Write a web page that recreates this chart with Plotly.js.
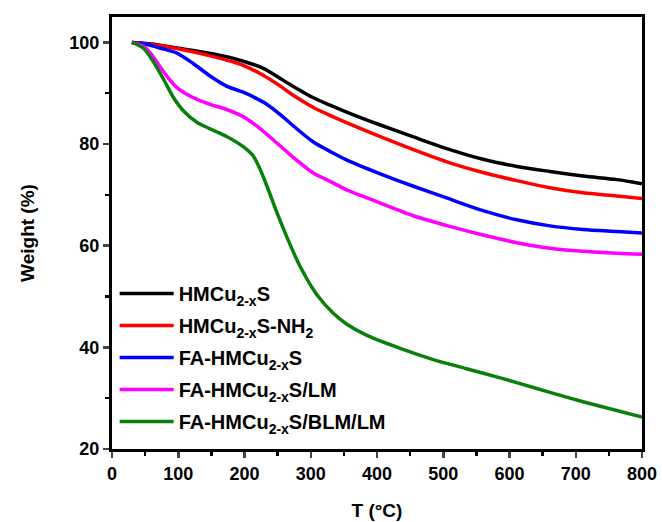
<!DOCTYPE html>
<html>
<head>
<meta charset="utf-8">
<script src="https://cdn.plot.ly/plotly-3.0.1.min.js"></script>
<style>html,body{margin:0;padding:0;background:#fff;}#chart{width:662px;height:522px;}</style>
</head>
<body>
<div id="chart"></div>
<script>
// Temperature (°C) and weight (%)
const T_black = [30, 60, 98, 150, 198, 230, 254, 269, 304, 330, 354, 404, 455, 510, 560, 611, 661, 711, 762, 800];
const W_black = [100, 99.7, 98.9, 97.8, 96.3, 94.8, 92.9, 91.7, 89.1, 87.6, 86.3, 83.8, 81.4, 78.9, 77.0, 75.6, 74.6, 73.7, 73.0, 72.2];

const T_red = [30, 60, 98, 150, 198, 230, 254, 269, 304, 330, 354, 404, 455, 510, 560, 611, 661, 711, 762, 800];
const W_red = [100, 99.6, 98.8, 97.3, 95.5, 93.4, 91.4, 90.0, 87.2, 85.6, 84.2, 81.5, 78.9, 76.3, 74.4, 72.8, 71.4, 70.4, 69.8, 69.3];

const T_blue = [30, 50, 72, 98, 123, 148, 173, 198, 213, 233, 254, 269, 304, 330, 354, 404, 455, 505, 560, 611, 661, 711, 762, 800];
const W_blue = [100, 99.7, 98.9, 97.9, 95.8, 93.4, 91.4, 90.2, 89.3, 87.9, 85.8, 84.1, 80.4, 78.5, 76.9, 74.2, 71.7, 69.4, 66.9, 65.1, 63.9, 63.2, 62.8, 62.5];

const T_magenta = [30, 47, 60, 72, 85, 98, 123, 148, 173, 198, 224, 249, 269, 304, 330, 354, 389, 455, 510, 560, 611, 661, 711, 762, 800];
const W_magenta = [100, 99.3, 97.6, 95.3, 93.0, 91.1, 89.1, 87.8, 86.8, 85.4, 83.0, 80.2, 77.9, 74.3, 72.6, 71.0, 69.2, 65.9, 63.8, 62.1, 60.6, 59.5, 58.9, 58.5, 58.3];

const T_green = [30, 47, 62, 78, 93, 108, 128, 148, 173, 198, 213, 223, 234, 249, 264, 284, 309, 334, 354, 384, 435, 485, 535, 586, 636, 686, 737, 800];
const W_green = [100, 98.9, 96.3, 92.7, 89.1, 86.5, 84.3, 83.0, 81.5, 79.5, 77.7, 75.2, 71.7, 66.5, 61.7, 55.9, 50.4, 46.7, 44.6, 42.4, 39.8, 37.6, 35.8, 34.0, 32.1, 30.2, 28.4, 26.3];

const seriesNames = ['HMCu<sub>2-x</sub>S', 'HMCu<sub>2-x</sub>S-NH<sub>2</sub>', 'FA-HMCu<sub>2-x</sub>S', 'FA-HMCu<sub>2-x</sub>S/LM', 'FA-HMCu<sub>2-x</sub>S/BLM/LM'];
const seriesColors = ['#000000', '#ff0000', '#0000ff', '#ff00ff', '#0a800a'];
const xTickVals = [0, 100, 200, 300, 400, 500, 600, 700, 800];
const yTickVals = [20, 40, 60, 80, 100];

const xs = [T_black, T_red, T_blue, T_magenta, T_green];
const ys = [W_black, W_red, W_blue, W_magenta, W_green];

const traces = xs.map((x, i) => ({
  x: x, y: ys[i], type: 'scatter', mode: 'lines', name: seriesNames[i],
  legendgroup: 'g' + i,
  line: {color: seriesColors[i], width: 3.5, shape: 'spline', smoothing: 0.8}
}));

const font = {family: 'Liberation Sans, Arial, sans-serif', color: '#000'};
const layout = {
  width: 662, height: 522,
  margin: {l: 112, r: 20, t: 17, b: 73},
  paper_bgcolor: '#fff', plot_bgcolor: '#fff',
  showlegend: true,
  legend: {
    x: 0.005, y: 0.405, xanchor: 'left', yanchor: 'top',
    bgcolor: 'rgba(0,0,0,0)', itemwidth: 54, tracegroupgap: 3,
    font: Object.assign({}, font, {size: 20, weight: 'bold'})
  },
  xaxis: {
    range: [0, 800], tickvals: xTickVals, ticks: 'outside', ticklen: 6, tickwidth: 2.5,
    showline: true, linewidth: 3, linecolor: '#000', mirror: true, showgrid: false, zeroline: false,
    minor: {dtick: 50, ticks: 'outside', ticklen: 4, tickwidth: 2.5, tickcolor: '#000'},
    tickfont: Object.assign({}, font, {size: 18, weight: 'bold'}),
    title: {text: 'T (°C)', font: Object.assign({}, font, {size: 19, weight: 'bold'}), standoff: 22}
  },
  yaxis: {
    range: [20, 105], tickvals: yTickVals, ticks: 'outside', ticklen: 6, tickwidth: 2.5,
    showline: true, linewidth: 3, linecolor: '#000', mirror: true, showgrid: false, zeroline: false,
    minor: {dtick: 10, ticks: 'outside', ticklen: 4, tickwidth: 2.5, tickcolor: '#000'},
    tickfont: Object.assign({}, font, {size: 18, weight: 'bold'}),
    title: {text: 'Weight (%)', font: Object.assign({}, font, {size: 19, weight: 'bold'}), standoff: 30}
  }
};

Plotly.newPlot('chart', traces, layout, {displayModeBar: false, staticPlot: true});
</script>
</body>
</html>
